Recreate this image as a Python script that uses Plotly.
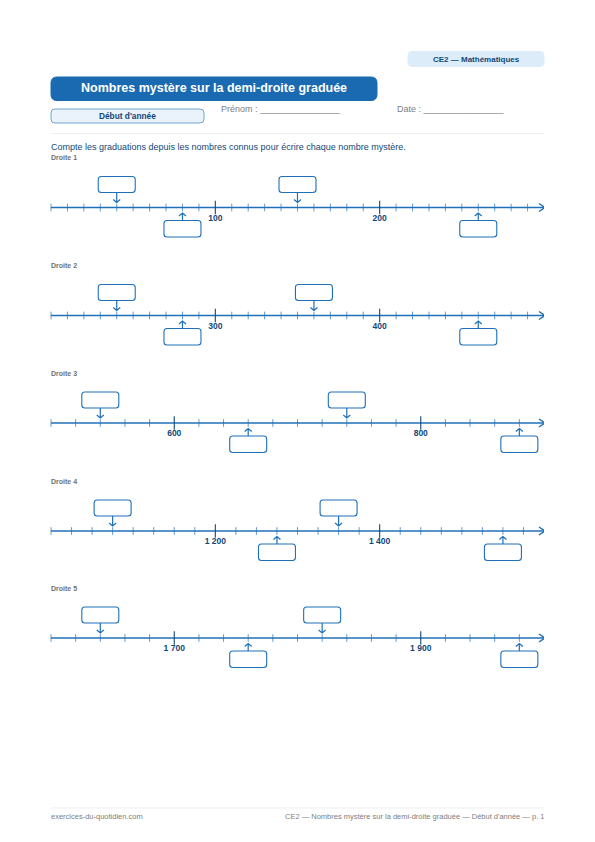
import plotly.graph_objects as go

BLUE = "#1f70b8"
TITLE_BLUE = "#1a6ab1"
DARK = "#104878"
FONT = "Liberation Sans"

# one list per number line: (first value, last value, step)
line_names = ["Droite 1", "Droite 2", "Droite 3", "Droite 4", "Droite 5"]
line_starts = [0, 200, 500, 1000, 1600]
line_ends = [300, 500, 900, 1600, 2000]
line_steps = [10, 10, 20, 25, 20]
line_labels = [[100, 200], [300, 400], [600, 800], [1200, 1400], [1700, 1900]]
mystery_top = [[40, 150], [240, 360], [540, 740], [1075, 1350], [1640, 1820]]
mystery_bottom = [[80, 260], [280, 460], [660, 880], [1275, 1550], [1760, 1980]]

# page position of each axis line (px from top)
line_y = [207.5, 315.5, 423, 531, 638]

W, H = 595, 842
X0, X1 = 51, 544


def fmt(v):
    return f"{v:,}".replace(",", " ")


def rounded_box(x0, x1, y0, y1, r):
    return (f"M {x0 + r} {y0} L {x1 - r} {y0} Q {x1} {y0} {x1} {y0 + r} "
            f"L {x1} {y1 - r} Q {x1} {y1} {x1 - r} {y1} L {x0 + r} {y1} "
            f"Q {x0} {y1} {x0} {y1 - r} L {x0} {y0 + r} Q {x0} {y0} {x0 + r} {y0} Z")


fig = go.Figure()
shapes = []
annotations = []


def page_text(x, y, text, size, color, anchor="left", bold=False):
    annotations.append(dict(
        xref="paper", yref="paper", x=x / W, y=1 - y / H, text=f"<b>{text}</b>" if bold else text,
        showarrow=False, xanchor=anchor, yanchor="middle",
        font=dict(family=FONT, size=size, color=color), borderpad=0, borderwidth=0,
    ))


def page_box(x0, y0, x1, y1, r, fill, line, width=1):
    shapes.append(dict(type="path", xref="x6", yref="y6", path=rounded_box(x0, x1, y0, y1, r),
                       fillcolor=fill, line=dict(color=line, width=width)))


def page_line(x0, y0, x1, y1, color, width=0.7):
    shapes.append(dict(type="line", xref="x6", yref="y6", x0=x0, x1=x1, y0=y0, y1=y1,
                       line=dict(color=color, width=width)))


def anchored(xa, ya, v, path, fill=None, width=1.1):
    # path is in pixels around the value v on the axis line
    shape = dict(type="path", xref=xa, yref=ya, xsizemode="pixel", ysizemode="pixel",
                 xanchor=v, yanchor=0, path=path, line=dict(color=BLUE, width=width))
    if fill:
        shape["fillcolor"] = fill
    shapes.append(shape)


# number lines
for i, name in enumerate(line_names):
    n = i + 1
    axis = "" if i == 0 else str(n)
    start, end, step = line_starts[i], line_ends[i], line_steps[i]
    band = 50
    y_top = 1 - (line_y[i] - band) / H
    y_bot = 1 - (line_y[i] + band) / H
    fig.update_layout({
        f"xaxis{axis}": dict(domain=[X0 / W, X1 / W], range=[start, end], visible=False, anchor=f"y{axis}"),
        f"yaxis{axis}": dict(domain=[y_bot, y_top], range=[-band, band], visible=False, anchor=f"x{axis}"),
    })
    xa, ya = f"x{axis}", f"y{axis}"

    ticks = list(range(start, end, step))
    minor = [t for t in ticks if t not in line_labels[i]]
    fig.add_trace(go.Scatter(x=[start, end], y=[0, 0], xaxis=xa, yaxis=ya, mode="lines",
                             line=dict(color=BLUE, width=1.5), cliponaxis=False, hoverinfo="skip"))
    fig.add_trace(go.Scatter(x=minor, y=[0] * len(minor), xaxis=xa, yaxis=ya, mode="markers", cliponaxis=False,
                             marker=dict(symbol="line-ns", size=5.5, line=dict(color=BLUE, width=0.7)), hoverinfo="skip"))
    fig.add_trace(go.Scatter(x=line_labels[i], y=[0, 0], xaxis=xa, yaxis=ya, mode="markers+text", cliponaxis=False,
                             marker=dict(symbol="line-ns", size=9.5, line=dict(color=DARK, width=1.1)),
                             text=[f"<b>{fmt(v)}</b>" for v in line_labels[i]], textposition="bottom center",
                             textfont=dict(family=FONT, size=8.5, color=DARK), hoverinfo="skip"))

    # arrowhead at the end of the axis
    anchored(xa, ya, end, "M -5 4 L 1 0 L -5 -4", width=1.4)

    for v in mystery_top[i]:
        anchored(xa, ya, v, rounded_box(-18.5, 18.5, 15, 31, 3), "white")
        anchored(xa, ya, v, "M 0 15 L 0 5 M -3.5 8 L 0 5 L 3.5 8", width=1.2)
    for v in mystery_bottom[i]:
        anchored(xa, ya, v, rounded_box(-18.5, 18.5, -29.5, -13, 3), "white")
        anchored(xa, ya, v, "M 0 -13 L 0 -5.5 M -3.5 -8.5 L 0 -5.5 L 3.5 -8.5", width=1.2)

    page_text(51, line_y[i] - 49.5, name, 7, "#707070", bold=True)

# page coordinate system for the header and footer
fig.update_layout(
    xaxis6=dict(domain=[0, 1], range=[0, W], visible=False, anchor="y6"),
    yaxis6=dict(domain=[0, 1], range=[H, 0], visible=False, anchor="x6"),
)
fig.add_trace(go.Scatter(x=[0], y=[0], xaxis="x6", yaxis="y6", mode="markers",
                         marker=dict(opacity=0), hoverinfo="skip"))

page_box(408, 51.5, 544, 66.5, 4, "#dcecf9", "#dcecf9")
page_text(476, 59.5, "CE2 — Mathématiques", 8, DARK, "center", True)

page_box(51, 77, 377, 100.5, 6, TITLE_BLUE, TITLE_BLUE)
page_text(214, 88, "Nombres mystère sur la demi-droite graduée", 12.5, "white", "center", True)

page_box(51, 109, 204, 123, 4, "#eaf2fb", "#6ea6d6")
page_text(127.5, 116, "Début d'année", 8.3, DARK, "center", True)

page_text(221, 108.5, "Prénom : ________________", 9, "#808080")
page_text(397, 108.5, "Date : ________________", 9, "#808080")

page_line(51, 133.5, 544, 133.5, "#e6e6e6")
page_text(51, 147, "Compte les graduations depuis les nombres connus pour écrire chaque nombre mystère.", 9, DARK)

page_line(51, 808, 544, 808, "#e6e6e6")
page_text(51, 816.5, "exercices-du-quotidien.com", 7.5, "#808080")
page_text(544, 816.5, "CE2 — Nombres mystère sur la demi-droite graduée — Début d'année — p. 1", 7.5, "#808080", "right")

fig.update_layout(
    width=W, height=H, margin=dict(l=0, r=0, t=0, b=0),
    paper_bgcolor="white", plot_bgcolor="rgba(0,0,0,0)", showlegend=False,
    shapes=shapes, annotations=annotations,
)

# the browser default body margin would shift the whole page by 8px
fig.write_html("out.html", config=dict(displayModeBar=False),
               post_script="document.body.style.margin='0';")
